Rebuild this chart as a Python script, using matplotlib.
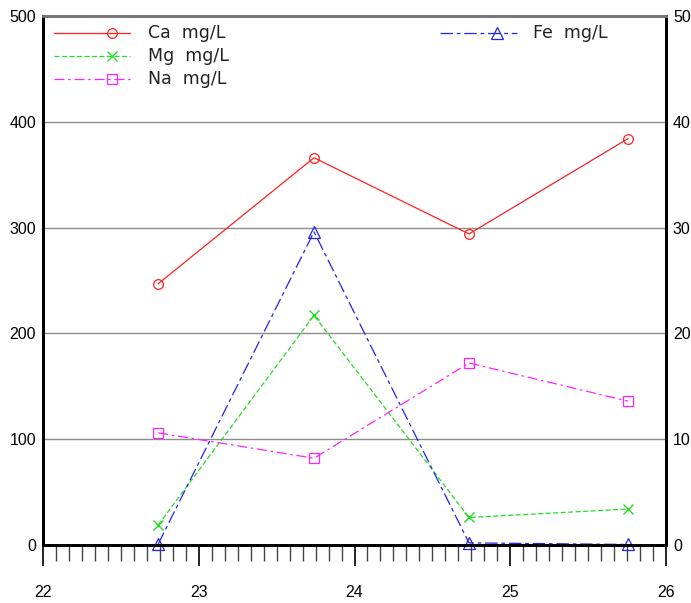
import matplotlib
matplotlib.use("Agg")
import matplotlib.pyplot as plt
from matplotlib.lines import Line2D
from matplotlib.ticker import MultipleLocator

plt.rcParams['font.family'] = ['Liberation Sans Narrow', 'Liberation Sans', 'DejaVu Sans']

x_dates = [22.74, 23.74, 24.735, 25.755]
ca = [247, 366, 294, 384]
mg = [19, 217, 26, 34]
na = [106, 82, 172, 136]
fe = [0.1, 29.6, 0.2, 0.05]

left_ticks = [0, 100, 200, 300, 400, 500]
right_ticks = [0, 10, 20, 30, 40, 50]
x_ticks = [22, 23, 24, 25, 26]

fig = plt.figure(figsize=(6.91, 6.03), dpi=100)
ax = fig.add_axes([43/691, 58/603, 623/691, 529/603])
ax2 = ax.twinx()

ax.set_xlim(22, 26)
ax.set_ylim(0, 500)
ax2.set_ylim(0, 50)

for y in [100, 200, 300, 400]:
    ax.axhline(y, color='#8c8c8c', lw=1.0, zorder=0)

ms = 7
ax.plot(x_dates, ca, color='#ff2020', lw=0.9, ls='-', marker='o', mfc='none', mec='#ff2020', ms=ms, mew=0.9, clip_on=False)
ax.plot(x_dates, mg, color='#22dd22', lw=0.9, ls=(0, (4, 2)), marker='x', mec='#22dd22', ms=ms, mew=1.0, clip_on=False)
ax.plot(x_dates, na, color='#ff22ff', lw=0.9, ls=(0, (8, 3, 2, 3)), marker='s', mfc='none', mec='#ff22ff', ms=ms, mew=0.9, clip_on=False)
ax2.plot(x_dates, fe, color='#2222ee', lw=0.9, ls=(0, (10, 3, 3, 3)), marker='^', mfc='none', mec='#2222ee', ms=ms + 1, mew=0.9, clip_on=False)

# spines
for a in (ax, ax2):
    a.spines['top'].set_color('#777777')
    a.spines['top'].set_linewidth(2)
    for s in ('left', 'right', 'bottom'):
        a.spines[s].set_color('black')
        a.spines[s].set_linewidth(2)

ax.set_xticks(x_ticks)
ax.xaxis.set_minor_locator(MultipleLocator(1/12))
ax.tick_params(axis='x', which='major', direction='out', length=15, width=1.2, color='black', pad=14, labelsize=11.5)
ax.tick_params(axis='x', which='minor', direction='out', length=11.5, width=1.0, color='#444444')
ax.set_yticks(left_ticks)
ax.tick_params(axis='y', length=0, pad=5, labelsize=11.5)
ax2.set_yticks(right_ticks)
ax2.tick_params(axis='y', length=0, pad=5, labelsize=11.5)

# legend (manual, axes coordinates)
def leg(x0, xm, x1, xt, y, color, ls, marker, label, mk_ms=ms):
    ln = Line2D([x0, xm, x1], [y, y, y], transform=ax.transAxes,
                color=color, lw=0.9, ls=ls, marker=marker, markevery=[1],
                mfc='none', mec=color, ms=mk_ms, mew=0.9)
    ax.add_line(ln)
    ax.text(xt, y, label, transform=ax.transAxes, va='center', ha='left',
            fontsize=12.5, family=['DejaVu Sans'], color='#222222')

leg(0.0177, 0.111, 0.139, 0.168, 0.968, '#ff2020', '-', 'o', 'Ca  mg/L')
leg(0.0177, 0.111, 0.139, 0.168, 0.924, '#22dd22', (0, (4, 2)), 'x', 'Mg  mg/L')
leg(0.0177, 0.111, 0.139, 0.168, 0.881, '#ff22ff', (0, (8, 3, 2, 3)), 's', 'Na  mg/L')
leg(0.637, 0.729, 0.761, 0.787, 0.968, '#2222ee', (0, (10, 3, 3, 3)), '^', 'Fe  mg/L', ms + 1)

fig.savefig('out.png', dpi=100)
